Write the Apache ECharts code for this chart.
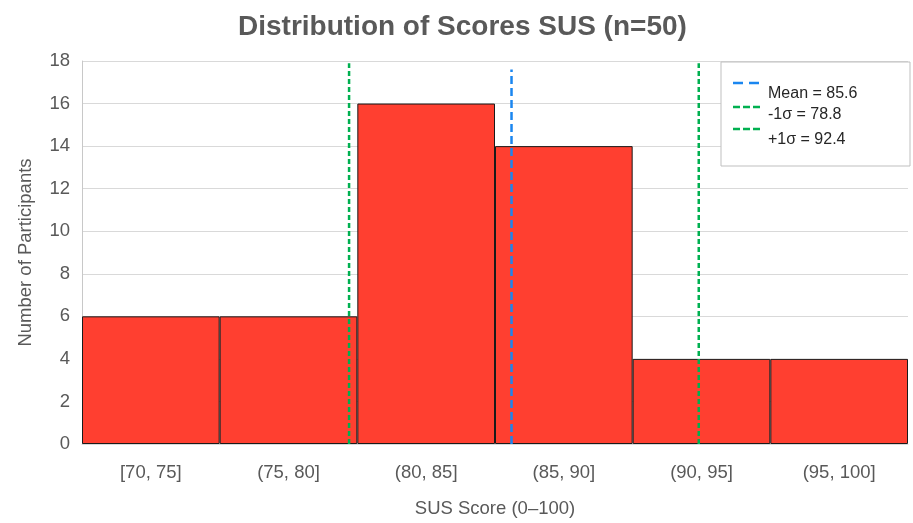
<!DOCTYPE html>
<html>
<head>
<meta charset="utf-8">
<script src="https://cdn.jsdelivr.net/npm/echarts@6/dist/echarts.min.js"></script>
<style>
  html, body { margin: 0; padding: 0; background: #fff; }
  #chart { width: 913px; height: 523px; }
</style>
</head>
<body>
<div id="chart"></div>
<script>
const categories = ['[70, 75]', '(75, 80]', '(80, 85]', '(85, 90]', '(90, 95]', '(95, 100]']
const counts = [6, 6, 16, 14, 4, 4]
const yTicks = [0, 2, 4, 6, 8, 10, 12, 14, 16, 18]
// reference lines: legend label, x position on the score scale, top end, colour
const refNames = ['Mean = 85.6', '-1σ = 78.8', '+1σ = 92.4']
const refPos = [85.6, 79.7, 92.4]
const refTop = [17.6, 17.9, 17.9]
const refColors = ['#1a86f0', '#00b050', '#00b050']
const refDash = [[8, 4], [5, 3], [5, 3]]

const textColor = '#595959'
const fontFamily = 'Liberation Sans, Arial, sans-serif'

const chart = echarts.init(document.getElementById('chart'))

const refSeries = refNames.map((name, i) => ({
    name: name,
    type: 'line',
    xAxisIndex: 1,
    data: [[refPos[i], 0], [refPos[i], refTop[i]]],
    symbol: 'none',
    lineStyle: { color: refColors[i], width: 2.5, type: refDash[i] },
    z: 5,
    silent: true
}))

// hand drawn legend box, like the original one
const legendY = [83, 107, 129]
const legendTextY = [94, 115, 140]
const legendDash = [[10, 6], [7, 3], [7, 3]]
const legendGraphics = [{
    type: 'rect',
    shape: { x: 721, y: 62, width: 189, height: 104 },
    style: { fill: '#fff', stroke: '#bfbfbf', lineWidth: 1 },
    z: 10
}]
refNames.forEach((name, i) => {
    legendGraphics.push({
        type: 'line',
        shape: { x1: 733, y1: legendY[i], x2: 763, y2: legendY[i] },
        style: { stroke: refColors[i], lineWidth: 2.5, lineDash: legendDash[i] },
        z: 11
    })
    legendGraphics.push({
        type: 'text',
        x: 768,
        y: legendTextY[i],
        style: { text: name, fill: '#262626', font: '16px ' + fontFamily, textVerticalAlign: 'middle' },
        z: 11
    })
})

const option = {
    animation: false,
    title: {
        text: 'Distribution of Scores SUS (n=50)',
        left: 233,
        top: 8,
        textStyle: { fontSize: 28, fontWeight: 'bold', color: textColor, fontFamily: fontFamily }
    },
    grid: { left: 82, right: 5, top: 61, bottom: 75 },
    xAxis: [
        {
            type: 'category',
            data: categories,
            name: 'SUS Score (0–100)',
            nameLocation: 'middle',
            nameGap: 55,
            nameTextStyle: { fontSize: 18.5, color: textColor, fontFamily: fontFamily },
            axisLine: { lineStyle: { color: '#d9d9d9' } },
            axisTick: { show: false },
            axisLabel: { fontSize: 18.5, color: textColor, fontFamily: fontFamily, margin: 19 }
        },
        {
            type: 'value',
            min: 70,
            max: 100,
            show: false
        }
    ],
    yAxis: {
        type: 'value',
        min: yTicks[0],
        max: yTicks[yTicks.length - 1],
        interval: 2,
        name: 'Number of Participants',
        nameLocation: 'middle',
        nameGap: 47,
        nameTextStyle: { fontSize: 18.5, color: textColor, fontFamily: fontFamily },
        axisLine: { show: true, lineStyle: { color: '#c8c8c8' } },
        axisTick: { show: false },
        axisLabel: { fontSize: 18.5, color: textColor, fontFamily: fontFamily, margin: 12 },
        splitLine: { lineStyle: { color: '#d9d9d9' } }
    },
    graphic: legendGraphics,
    series: [
        {
            type: 'bar',
            data: counts,
            barCategoryGap: '0%',
            itemStyle: { color: '#ff3f30', borderColor: '#1a1a1a', borderWidth: 1 },
            silent: true
        }
    ].concat(refSeries)
}

chart.setOption(option)
</script>
</body>
</html>
